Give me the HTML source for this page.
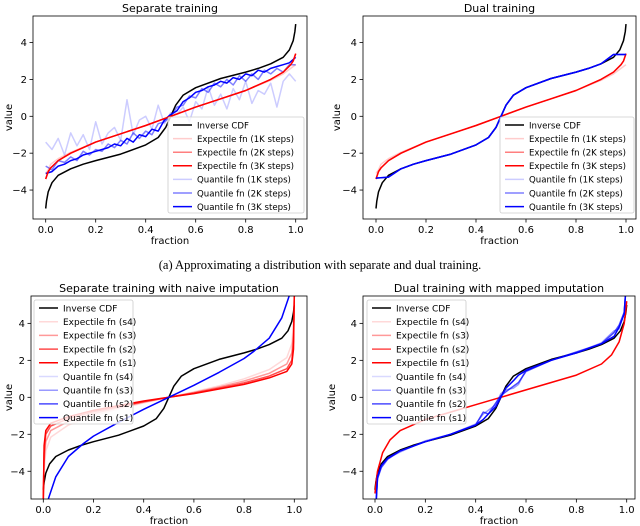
<!DOCTYPE html>
<html><head><meta charset="utf-8"><style>
body{margin:0;background:#fff;}
svg{display:block;font-family:"DejaVu Sans","Liberation Sans",sans-serif;}
</style></head><body>
<svg id="fig" width="640" height="526" viewBox="0 0 640 526" xmlns="http://www.w3.org/2000/svg">
<text x="320" y="269" text-anchor="middle" font-family="Liberation Serif, serif" font-size="12.5">(a) Approximating a distribution with separate and dual training.</text>
</svg>
<script>
// ---- data ----
const CDF_X = [0,0.003,0.01,0.025,0.05,0.1,0.15,0.2,0.3,0.4,0.45,0.48,0.5,0.52,0.55,0.6,0.7,0.8,0.85,0.9,0.95,0.975,0.99,0.997,1];
const CDF_Y = [-5,-4.6,-4.1,-3.6,-3.2,-2.85,-2.6,-2.4,-2.05,-1.55,-1.15,-0.6,0,0.6,1.15,1.55,2.05,2.4,2.6,2.85,3.2,3.6,4.1,4.6,5];
const EXP_X = [0,0.01,0.02,0.05,0.1,0.2,0.3,0.4,0.5,0.6,0.7,0.8,0.9,0.95,0.98,0.99,1];
const EXP_Y = [-3.4,-3.0,-2.8,-2.4,-2.0,-1.4,-0.95,-0.5,0,0.5,0.95,1.4,2.0,2.4,2.8,3.0,3.4];
const EXP1K_Y = [-3.1,-2.9,-2.6,-2.3,-1.95,-1.4,-0.95,-0.5,0,0.5,0.95,1.4,1.95,2.3,2.6,2.7,2.8];
const Q_X = [0,0.025,0.05,0.075,0.1,0.125,0.15,0.175,0.2,0.225,0.25,0.275,0.3,0.325,0.35,0.375,0.4,0.425,0.45,0.475,0.5,0.525,0.55,0.575,0.6,0.625,0.65,0.675,0.7,0.725,0.75,0.775,0.8,0.825,0.85,0.875,0.9,0.925,0.95,0.975,1];
const Q3K_Y = [-3.1,-3.0,-2.7,-2.6,-2.4,-2.3,-2.1,-2.0,-1.9,-1.8,-1.7,-1.5,-1.6,-1.2,-1.4,-1.0,-1.1,-0.7,-0.8,-0.2,0.1,0.3,0.8,1.0,1.3,1.4,1.6,1.7,1.9,1.8,2.1,2.0,2.3,2.2,2.5,2.4,2.6,2.7,2.8,2.9,3.2];
const Q2K_Y = [-2.7,-2.9,-2.4,-2.5,-2.2,-2.4,-1.9,-2.1,-1.8,-1.9,-1.5,-1.7,-1.3,-1.5,-0.9,-1.2,-0.8,-1.0,-0.4,-0.3,0.0,0.5,0.6,1.1,1.0,1.5,1.3,1.8,1.6,2.0,1.7,2.2,1.9,2.3,2.0,2.5,2.3,2.6,2.4,2.8,2.8];
const Q1K_Y = [-1.4,-1.8,-1.2,-2.1,-0.9,-1.6,-1.0,-1.8,-0.3,-1.5,-0.9,-0.6,-1.3,0.9,-1.0,-0.2,0.0,-0.7,0.6,-0.4,0.2,0.1,0.5,-0.3,0.8,0.4,1.6,0.6,1.2,0.4,1.5,0.9,1.9,0.7,1.4,1.2,1.8,0.5,1.9,2.3,1.9];
const DQ_X = [0,0.05,0.1,0.15,0.2,0.3,0.4,0.45,0.48,0.5,0.52,0.55,0.6,0.7,0.8,0.85,0.9,0.95,1];
const DQ_Y = [-3.35,-3.3,-2.85,-2.6,-2.4,-2.05,-1.55,-1.15,-0.6,0,0.6,1.15,1.55,2.05,2.4,2.6,2.85,3.35,3.35];
const NE_X = [0,0.003,0.01,0.03,0.1,0.2,0.3,0.4,0.5,0.6,0.7,0.8,0.9,0.97,0.99,0.997,1];
const NE1_Y = [-5.5,-2.6,-1.8,-1.4,-1.05,-0.7,-0.45,-0.2,0,0.2,0.45,0.7,1.05,1.4,1.8,2.6,5.5];
const NE2_Y = [-5.5,-3.0,-2.0,-1.55,-1.15,-0.78,-0.5,-0.23,0,0.23,0.5,0.78,1.15,1.55,2.0,3.0,5.5];
const NE3_Y = [-5.5,-3.5,-2.4,-1.8,-1.3,-0.88,-0.55,-0.26,0,0.26,0.55,0.88,1.3,1.8,2.4,3.5,5.5];
const NE4_Y = [-5.5,-4.0,-2.9,-2.15,-1.5,-1.0,-0.62,-0.3,0,0.3,0.62,1.0,1.5,2.15,2.9,4.0,5.5];
const NQ_X = [0.02,0.05,0.1,0.16,0.2,0.3,0.4,0.5,0.6,0.7,0.8,0.84,0.9,0.95,0.98];
const NQ_Y = [-5.5,-4.3,-3.2,-2.5,-2.1,-1.35,-0.65,0,0.65,1.35,2.1,2.5,3.2,4.3,5.5];
const ME_X = [0,0.005,0.01,0.03,0.06,0.1,0.2,0.3,0.4,0.5,0.6,0.7,0.8,0.9,0.94,0.97,0.99,0.995,1];
const ME_Y = [-5.2,-4.5,-4.0,-3.0,-2.3,-1.8,-1.2,-0.8,-0.4,0,0.4,0.8,1.2,1.8,2.3,3.0,4.0,4.5,5.2];
const MQ_X = [0.005,0.01,0.025,0.05,0.1,0.2,0.3,0.4,0.43,0.45,0.48,0.5,0.52,0.55,0.57,0.6,0.7,0.8,0.9,0.95,0.97,0.99,0.995];
const MQ1_Y = [-5.5,-4.3,-3.7,-3.3,-2.9,-2.4,-2.0,-1.5,-1.2,-0.9,-0.5,0,0.5,0.9,1.2,1.45,2.0,2.4,2.9,3.3,3.8,4.5,5.5];
const MQ2_Y = [-5.5,-4.4,-3.8,-3.35,-2.9,-2.4,-2.0,-1.5,-0.8,-0.9,-0.3,0.1,0.3,0.6,0.8,1.4,2.0,2.45,2.9,3.5,3.9,4.6,5.5];
const MQ3_Y = [-5.5,-4.4,-3.7,-3.3,-2.95,-2.35,-2.0,-1.45,-0.9,-0.7,-0.4,0.2,0.4,0.5,0.7,1.5,2.0,2.4,2.95,3.6,3.7,4.6,5.5];
const X_TICKS = [0,0.2,0.4,0.6,0.8,1.0];
const X_TICK_LABELS = ["0.0","0.2","0.4","0.6","0.8","1.0"];
const Y_TICKS = [-4,-2,0,2,4];
const Y_TICK_LABELS = ["\u22124","\u22122","0","2","4"];

const NS="http://www.w3.org/2000/svg";
const svg=document.getElementById('fig');
function mk(tag,attrs,parent){const e=document.createElementNS(NS,tag);for(const k in attrs)e.setAttribute(k,attrs[k]);(parent||svg).appendChild(e);return e;}

function panel(p){
  const g=mk('g',{});
  
  
  const sx=v=>p.x0+(p.x1-p.x0)*v;
  const sy=v=>p.fb-(v-p.ymin)/(p.ymax-p.ymin)*(p.fb-p.ft);
  const cid='clip-'+p.name;
  const cp=mk('clipPath',{id:cid},g);
  mk('rect',{x:p.fl,y:p.ft,width:p.fr-p.fl,height:p.fb-p.ft},cp);
  const t=mk('text',{x:(p.fl+p.fr)/2,y:p.ft-4,'text-anchor':'middle','font-size':11},g);
  t.textContent=p.title;
  
  
  const lines=mk('g',{'clip-path':'url(#'+cid+')'},g);
  p.series.forEach(s=>{
    const d=s.x.map((xv,i)=>(i?'L':'M')+sx(xv).toFixed(1)+','+sy(s.y[i]).toFixed(1)).join('');
    const path=mk('path',{d:d,fill:'none',stroke:s.c,'stroke-width':s.w||1.5,'stroke-opacity':s.o||1,'stroke-linejoin':'round'},lines);
    
    
  });
  mk('rect',{x:p.fl,y:p.ft,width:p.fr-p.fl,height:p.fb-p.ft,fill:'none',stroke:'#000','stroke-width':0.8},g);
  X_TICKS.forEach((v,i)=>{
    const x=sx(v);
    mk('line',{x1:x,x2:x,y1:p.fb,y2:p.fb+3.5,stroke:'#000','stroke-width':0.8},g);
    const tt=mk('text',{x:x,y:p.fb+14,'text-anchor':'middle','font-size':10},g);
    tt.textContent=X_TICK_LABELS[i];
    
    
  });
  Y_TICKS.forEach((v,i)=>{
    const y=sy(v);
    mk('line',{x1:p.fl-3.5,x2:p.fl,y1:y,y2:y,stroke:'#000','stroke-width':0.8},g);
    const tt=mk('text',{x:p.fl-6,y:y+3.5,'text-anchor':'end','font-size':10},g);
    tt.textContent=Y_TICK_LABELS[i];
    
    
  });
  const xl=mk('text',{x:(p.fl+p.fr)/2,y:p.fb+25,'text-anchor':'middle','font-size':10},g);
  xl.textContent='fraction';
  
  
  const yl=mk('text',{x:0,y:0,'text-anchor':'middle','font-size':10,transform:'translate('+p.ylx+','+((p.ft+p.fb)/2)+') rotate(-90)'},g);
  yl.textContent='value';
  
  
  const L=p.leg;
  const lg=mk('g',{},g);
  
  
  mk('rect',{x:L.x,y:L.y,width:L.w,height:L.h,rx:2,fill:'#fff','fill-opacity':0.8,stroke:'#ccc','stroke-width':0.8},lg);
  L.items.forEach((it,i)=>{
    const y=L.y+8+i*L.dy;
    mk('line',{x1:L.x+5,x2:L.x+24,y1:y,y2:y,stroke:it.c,'stroke-width':1.5,'stroke-opacity':it.o||1},lg);
    const tt=mk('text',{x:L.x+29,y:y+3.3,'font-size':L.fs},lg);
    tt.textContent=it.t;
    
    
  });
}
const stepItems=[{t:'Inverse CDF',c:'#000'},{t:'Expectile fn (1K steps)',c:'red',o:0.2},{t:'Expectile fn (2K steps)',c:'red',o:0.5},{t:'Expectile fn (3K steps)',c:'red'},{t:'Quantile fn (1K steps)',c:'blue',o:0.2},{t:'Quantile fn (2K steps)',c:'blue',o:0.5},{t:'Quantile fn (3K steps)',c:'blue'}];
const sItems=[{t:'Inverse CDF',c:'#000'},{t:'Expectile fn (s4)',c:'red',o:0.15},{t:'Expectile fn (s3)',c:'red',o:0.4},{t:'Expectile fn (s2)',c:'red',o:0.7},{t:'Expectile fn (s1)',c:'red'},{t:'Quantile fn (s4)',c:'blue',o:0.15},{t:'Quantile fn (s3)',c:'blue',o:0.4},{t:'Quantile fn (s2)',c:'blue',o:0.7},{t:'Quantile fn (s1)',c:'blue'}];

panel({name:'separate-training-panel',title:'Separate training',fl:33,fr:307,ft:16,fb:219,x0:45.7,x1:295.7,ymin:-5.57,ymax:5.44,ylx:12,
 series:[
  {id:'quantile-1k',x:Q_X,y:Q1K_Y,c:'blue',o:0.2},
  {id:'quantile-2k',x:Q_X,y:Q2K_Y,c:'blue',o:0.5},
  {id:'inverse-cdf',x:CDF_X,y:CDF_Y,c:'#000'},
  {id:'quantile-3k',x:Q_X,y:Q3K_Y,c:'blue'},
  {id:'expectile-1k',x:EXP_X,y:EXP1K_Y,c:'red',o:0.2},
  {id:'expectile-2k',x:EXP_X,y:EXP_Y,c:'red',o:0.5},
  {id:'expectile-3k',x:EXP_X,y:EXP_Y,c:'red'}],
 leg:{x:168,y:117,w:136,h:96,dy:13.6,fs:8.6,items:stepItems}});
panel({name:'dual-training-panel',title:'Dual training',fl:363,fr:636,ft:16,fb:219,x0:376,x1:626,ymin:-5.57,ymax:5.44,ylx:340,
 series:[
  {id:'inverse-cdf',x:CDF_X,y:CDF_Y,c:'#000'},
  {id:'expectile-1k',x:EXP_X,y:EXP1K_Y,c:'red',o:0.2},
  {id:'expectile-2k',x:EXP_X,y:EXP_Y,c:'red',o:0.5},
  {id:'expectile-3k',x:EXP_X,y:EXP_Y,c:'red'},
  {id:'quantile-1k',x:DQ_X,y:DQ_Y,c:'blue',o:0.2},
  {id:'quantile-2k',x:DQ_X,y:DQ_Y,c:'blue',o:0.5},
  {id:'quantile-3k',x:DQ_X,y:DQ_Y,c:'blue'}],
 leg:{x:500,y:117,w:134,h:96,dy:13.6,fs:8.6,items:stepItems}});
panel({name:'naive-imputation-panel',title:'Separate training with naive imputation',fl:31,fr:307,ft:296,fb:499,x0:43.3,x1:294.3,ymin:-5.5,ymax:5.48,ylx:12,
 series:[
  {id:'inverse-cdf',x:CDF_X,y:CDF_Y,c:'#000'},
  {id:'expectile-s4',x:NE_X,y:NE4_Y,c:'red',o:0.15},
  {id:'expectile-s3',x:NE_X,y:NE3_Y,c:'red',o:0.4},
  {id:'expectile-s2',x:NE_X,y:NE2_Y,c:'red',o:0.7},
  {id:'expectile-s1',x:NE_X,y:NE1_Y,c:'red'},
  {id:'quantile-s1',x:NQ_X,y:NQ_Y,c:'blue'}],
 leg:{x:34,y:300,w:99,h:124,dy:13.7,fs:9,items:sItems}});
panel({name:'mapped-imputation-panel',title:'Dual training with mapped imputation',fl:363,fr:635,ft:296,fb:499,x0:375,x1:626.7,ymin:-5.5,ymax:5.48,ylx:335,
 series:[
  {id:'inverse-cdf',x:CDF_X,y:CDF_Y,c:'#000'},
  {id:'expectile-s4',x:ME_X,y:ME_Y,c:'red',o:0.15},
  {id:'expectile-s1',x:ME_X,y:ME_Y,c:'red'},
  {id:'quantile-s3',x:MQ_X,y:MQ3_Y,c:'blue',o:0.4},
  {id:'quantile-s2',x:MQ_X,y:MQ2_Y,c:'blue',o:0.7},
  {id:'quantile-s1',x:MQ_X,y:MQ1_Y,c:'blue'}],
 leg:{x:367,y:300,w:99,h:124,dy:13.7,fs:9,items:sItems}});
</script>
</body></html>
